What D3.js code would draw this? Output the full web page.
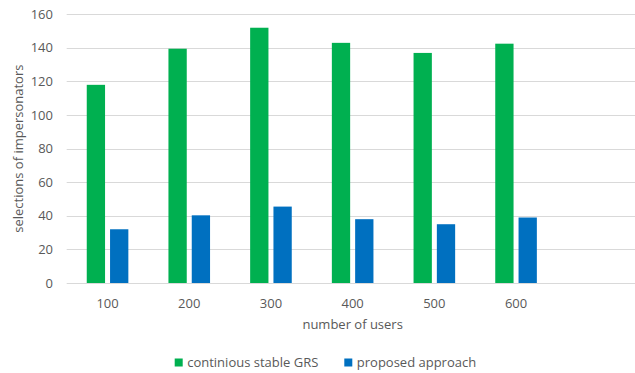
<!DOCTYPE html>
<html>
<head>
<meta charset="utf-8">
<script src="https://cdn.jsdelivr.net/npm/d3@7"></script>
<style>
  body { margin: 0; background: #fff; }
  text { font-family: "Open Sans", sans-serif; fill: #595959; }
</style>
</head>
<body>
<svg id="chart" width="635" height="373"></svg>
<script>
const users = ['100', '200', '300', '400', '500', '600', '']
const grs = [118, 139.5, 152, 143, 137, 142.5]
const proposed = [32, 40.3, 45.5, 38, 35, 39]
const yTicks = [0, 20, 40, 60, 80, 100, 120, 140, 160]
const seriesNames = ['continious stable GRS', 'proposed approach']
const colors = ['#00b050', '#0070c0']

const svg = d3.select('#chart')
const plotLeft = 66.7, plotRight = 638.6, plotTop = 14.3, plotBottom = 283

const x = d3.scaleBand().domain(users).range([plotLeft, plotRight])
const y = d3.scaleLinear().domain([0, 160]).range([plotBottom, plotTop])

// gridlines
svg.append('g')
    .selectAll('line')
    .data(yTicks)
    .enter().append('line')
    .attr('x1', plotLeft).attr('x2', plotRight)
    .attr('y1', d => Math.round(y(d)) + 0.5).attr('y2', d => Math.round(y(d)) + 0.5)
    .attr('stroke', '#d9d9d9').attr('stroke-width', 1)

// y tick labels
svg.append('g')
    .selectAll('text')
    .data(yTicks)
    .enter().append('text')
    .attr('x', 53).attr('y', d => y(d))
    .attr('dy', '0.35em')
    .attr('text-anchor', 'end')
    .style('font-size', '13px')
    .text(d => d)

// bars: two series per category
const barW = 18.3, gap = 5
const series = [grs, proposed]
series.forEach((vals, i) => {
    svg.append('g')
        .selectAll('rect')
        .data(vals)
        .enter().append('rect')
        .attr('x', (d, j) => x(users[j]) + x.bandwidth() / 2 - barW - gap / 2 + i * (barW + gap))
        .attr('y', d => y(d))
        .attr('width', barW)
        .attr('height', d => y(0) - y(d))
        .attr('fill', colors[i])
})

// x tick labels
svg.append('g')
    .selectAll('text')
    .data(users.filter(d => d))
    .enter().append('text')
    .attr('x', d => x(d) + x.bandwidth() / 2)
    .attr('y', 307.5)
    .attr('text-anchor', 'middle')
    .style('font-size', '13px')
    .text(d => d)

// axis titles
svg.append('text')
    .attr('x', (plotLeft + plotRight) / 2).attr('y', 329)
    .attr('text-anchor', 'middle')
    .style('font-size', '13px')
    .text('number of users')

svg.append('text')
    .attr('transform', `translate(23,${(plotTop + plotBottom) / 2}) rotate(-90)`)
    .attr('text-anchor', 'middle')
    .style('font-size', '13px')
    .text('selections of impersonators')

// legend
const legendX = [174.7, 344.3]
const legend = svg.append('g')
seriesNames.forEach((name, i) => {
    legend.append('rect')
        .attr('x', legendX[i]).attr('y', 358.5)
        .attr('width', 8).attr('height', 8)
        .attr('fill', colors[i])
    legend.append('text')
        .attr('x', legendX[i] + 12.5).attr('y', 367)
        .style('font-size', '13px')
        .text(name)
})
</script>
</body>
</html>
